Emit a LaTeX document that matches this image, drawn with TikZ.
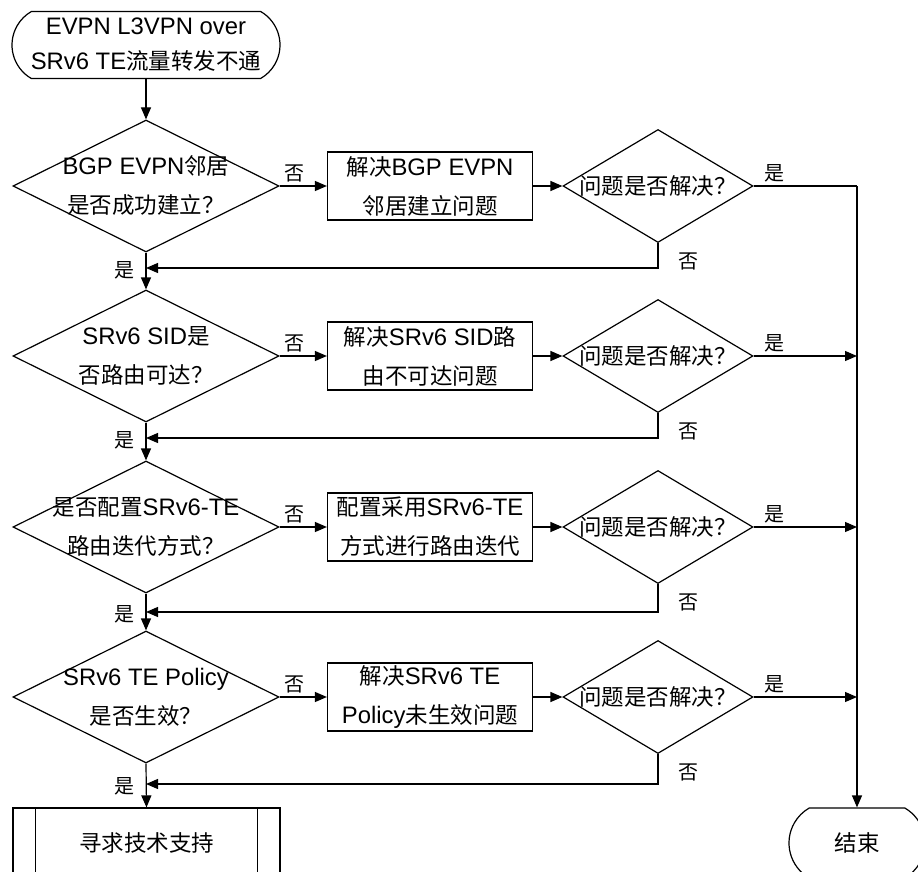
\documentclass[tikz,border=0pt]{standalone}
\usepackage{fontspec}
\setmainfont{Liberation Sans}[Scale=1.06]
\newfontfamily\cjk{Noto Sans CJK SC}
\usetikzlibrary{shapes.geometric,shapes.misc,arrows.meta,calc}
\tikzset{
  txt/.style={align=center, inner sep=0pt, font=\fontsize{22.5}{39}\selectfont},
  lbl/.style={inner sep=0pt, font=\fontsize{20}{24}\selectfont\cjk},
  bigdia/.style={draw, diamond, minimum width=266pt, minimum height=132pt, inner sep=0pt},
  smalldia/.style={draw, diamond, minimum width=190pt, minimum height=113pt, inner sep=0pt},
  actbox/.style={draw, rectangle, minimum width=205pt, minimum height=68pt, inner sep=0pt},
  term/.style={draw, rounded rectangle, rounded rectangle arc length=120, inner sep=0pt},
  flow/.style={-{Triangle[length=12pt,width=10pt]}},
}
\begin{document}
\begin{tikzpicture}[x=1pt, y=-1pt, line width=1.2pt]
\useasboundingbox (0,0) rectangle (918,872);

% start
\node[term, minimum width=268pt, minimum height=67pt] (start) at (146,45) {};
\node[txt, font=\fontsize{22.5}{35}\selectfont] (startt) at (start.center) {EVPN L3VPN over\\SRv6 TE{\cjk 流量转发不通}};

% row 1
\node[bigdia] (d1) at (146,186) {};
\node[txt] (d1t) at (d1.center) {BGP EVPN{\cjk 邻居}\\{\cjk 是否成功建立？}};
\node[actbox] (b1) at (430,186) {};
\node[txt] (b1t) at (b1.center) {{\cjk 解决}BGP EVPN\\{\cjk 邻居建立问题}};
\node[smalldia] (s1) at (658,186) {};
\node[txt] (s1t) at (s1.center) {\cjk 问题是否解决？};

% row 2
\node[bigdia] (d2) at (146,356) {};
\node[txt] (d2t) at (d2.center) {SRv6 SID{\cjk 是}\\{\cjk 否路由可达？}};
\node[actbox] (b2) at (430,356) {};
\node[txt] (b2t) at (b2.center) {{\cjk 解决}SRv6 SID{\cjk 路}\\{\cjk 由不可达问题}};
\node[smalldia] (s2) at (658,356) {};
\node[txt] (s2t) at (s2.center) {\cjk 问题是否解决？};

% row 3
\node[bigdia] (d3) at (146,527) {};
\node[txt] (d3t) at (d3.center) {{\cjk 是否配置}SRv6-TE\\{\cjk 路由迭代方式？}};
\node[actbox] (b3) at (430,527) {};
\node[txt] (b3t) at (b3.center) {{\cjk 配置采用}SRv6-TE\\{\cjk 方式进行路由迭代}};
\node[smalldia] (s3) at (658,527) {};
\node[txt] (s3t) at (s3.center) {\cjk 问题是否解决？};

% row 4
\node[bigdia] (d4) at (146,697) {};
\node[txt] (d4t) at (d4.center) {SRv6 TE Policy\\{\cjk 是否生效？}};
\node[actbox] (b4) at (430,697) {};
\node[txt] (b4t) at (b4.center) {{\cjk 解决}SRv6 TE\\Policy{\cjk 未生效问题}};
\node[smalldia] (s4) at (658,697) {};
\node[txt] (s4t) at (s4.center) {\cjk 问题是否解决？};

% bottom
\node[draw, rectangle, minimum width=267pt, minimum height=70pt, inner sep=0pt] (p) at (146.5,843) {};
\node[txt] (pt) at (p.center) {\cjk 寻求技术支持};
\draw ($(p.north west)+(23,0)$) -- ($(p.south west)+(23,0)$);
\draw ($(p.north east)+(-23,0)$) -- ($(p.south east)+(-23,0)$);
\node[term, minimum width=136pt, minimum height=70pt] (end) at (857,843) {};
\node[txt] (endt) at (end.center) {\cjk 结束};

% junction coordinates
\coordinate (j1) at (146,268);
\coordinate (j2) at (146,438);
\coordinate (j3) at (146,612);
\coordinate (j4) at (146,784);
\coordinate (r1) at (857,186);
\coordinate (r2) at (857,356);
\coordinate (r3) at (857,527);
\coordinate (r4) at (857,697);

% main axis
\draw[flow] (start.south) -- (d1.north);
\draw[flow] (d1.south) -- (d2.north);
\draw[flow] (d2.south) -- (d3.north);
\draw[flow] (d3.south) -- (d4.north);
\draw[flow] (d4.south) -- (p.north);

% right trunk
\draw (s1.east) -- (r1);
\draw[flow] (r1) -- (end.north);

\foreach \i in {1,2,3,4}{
  \draw[flow] (d\i.east) -- (b\i.west);
  \node[lbl, anchor=south] at ($(d\i.east)+(15,-3)$) {否};
  \draw[flow] (b\i.east) -- (s\i.west);
  \node[lbl, anchor=south west] at ($(s\i.east)+(10,-3)$) {是};
  \draw[flow] (s\i.south) |- (j\i);
  \node[lbl, anchor=west] at ($(s\i.south)+(20,18)$) {否};
  \node[lbl, anchor=east] at ($(j\i)+(-11,2)$) {是};
}
\foreach \i in {2,3,4}{
  \draw[flow] (s\i.east) -- (r\i);
}
\end{tikzpicture}
\end{document}
